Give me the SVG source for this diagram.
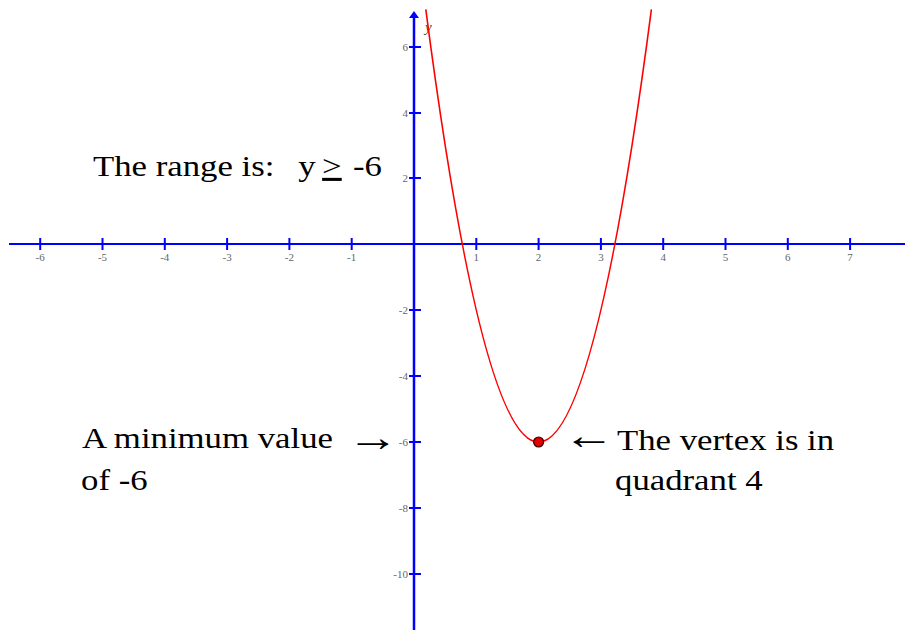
<svg xmlns="http://www.w3.org/2000/svg" width="905" height="630" viewBox="0 0 905 630">
<style>
.ax{stroke:#0000ff;stroke-width:2;fill:none}
.tk{stroke:#0000ff;stroke-width:2}
.tl{font-family:"Liberation Serif",serif;font-size:11px;fill:#666}
.big{font-family:"Liberation Serif",serif;font-size:30.5px;fill:#000}
.arr{font-family:"Liberation Serif",serif;font-size:40px;fill:#000}
.curve{stroke:#ff0000;stroke-width:1.6;fill:none}
</style>
<rect width="905" height="630" fill="#fff"/>
<g id="x-axis">
<line class="ax" x1="9" y1="244" x2="905" y2="244"/>
<g class="tk">
<line x1="40.2" y1="238" x2="40.2" y2="250"/>
<line x1="102.5" y1="238" x2="102.5" y2="250"/>
<line x1="164.8" y1="238" x2="164.8" y2="250"/>
<line x1="227.1" y1="238" x2="227.1" y2="250"/>
<line x1="289.4" y1="238" x2="289.4" y2="250"/>
<line x1="351.7" y1="238" x2="351.7" y2="250"/>
<line x1="476.3" y1="238" x2="476.3" y2="250"/>
<line x1="538.6" y1="238" x2="538.6" y2="250"/>
<line x1="600.9" y1="238" x2="600.9" y2="250"/>
<line x1="663.2" y1="238" x2="663.2" y2="250"/>
<line x1="725.5" y1="238" x2="725.5" y2="250"/>
<line x1="787.8" y1="238" x2="787.8" y2="250"/>
<line x1="850.1" y1="238" x2="850.1" y2="250"/>
</g>
<g class="tl" text-anchor="middle">
<text x="40.2" y="261">-6</text>
<text x="102.5" y="261">-5</text>
<text x="164.8" y="261">-4</text>
<text x="227.1" y="261">-3</text>
<text x="289.4" y="261">-2</text>
<text x="351.7" y="261">-1</text>
<text x="476.3" y="261">1</text>
<text x="538.6" y="261">2</text>
<text x="600.9" y="261">3</text>
<text x="663.2" y="261">4</text>
<text x="725.5" y="261">5</text>
<text x="787.8" y="261">6</text>
<text x="850.1" y="261">7</text>
</g>
</g>
<g id="y-axis">
<line class="ax" x1="414" y1="16" x2="414" y2="630" style="stroke-width:2.5"/>
<polygon points="414,11 409,18 419,18" fill="#0000ff"/>
<g class="tk">
<line x1="409" y1="47" x2="421" y2="47"/>
<line x1="409" y1="113" x2="421" y2="113"/>
<line x1="409" y1="178" x2="421" y2="178"/>
<line x1="409" y1="310" x2="421" y2="310"/>
<line x1="409" y1="376" x2="421" y2="376"/>
<line x1="409" y1="442" x2="421" y2="442"/>
<line x1="409" y1="508" x2="421" y2="508"/>
<line x1="409" y1="574" x2="421" y2="574"/>
</g>
<g class="tl" text-anchor="end">
<text x="408" y="51">6</text>
<text x="408" y="117">4</text>
<text x="408" y="182">2</text>
<text x="408" y="314">-2</text>
<text x="408" y="380">-4</text>
<text x="408" y="446">-6</text>
<text x="408" y="512">-8</text>
<text x="408" y="578">-10</text>
</g>
<text x="425" y="32" font-family="Liberation Serif, serif" font-style="italic" font-size="15" fill="#444">y</text>
</g>
<g id="parabola">
<path class="curve" d="M425.8,9.3 Q538.6,874.9 651.4,9.3"/>
</g>
<g id="vertex">
<circle cx="538.6" cy="442" r="5" fill="#e00000" stroke="#300" stroke-width="1.2"/>
</g>
<g id="range-label">
<text class="big" transform="translate(93,176) scale(1.14,1)"><tspan x="0">The range is:</tspan><tspan x="180">y</tspan><tspan x="201" style="text-decoration:underline">&gt;</tspan><tspan x="228">-6</tspan></text>
</g>
<g id="minimum-label">
<text class="big" transform="translate(82,448) scale(1.14,1)">A minimum value</text>
<text class="arr" transform="translate(347,450.5) scale(1.3,1)">→</text>
<text class="big" transform="translate(81,490) scale(1.14,1)">of -6</text>
</g>
<g id="vertex-label">
<text class="arr" transform="translate(563,449) scale(1.3,1)">←</text>
<text class="big" transform="translate(617,450) scale(1.14,1)">The vertex is in</text>
<text class="big" transform="translate(615,490) scale(1.14,1)">quadrant 4</text>
</g>
</svg>
